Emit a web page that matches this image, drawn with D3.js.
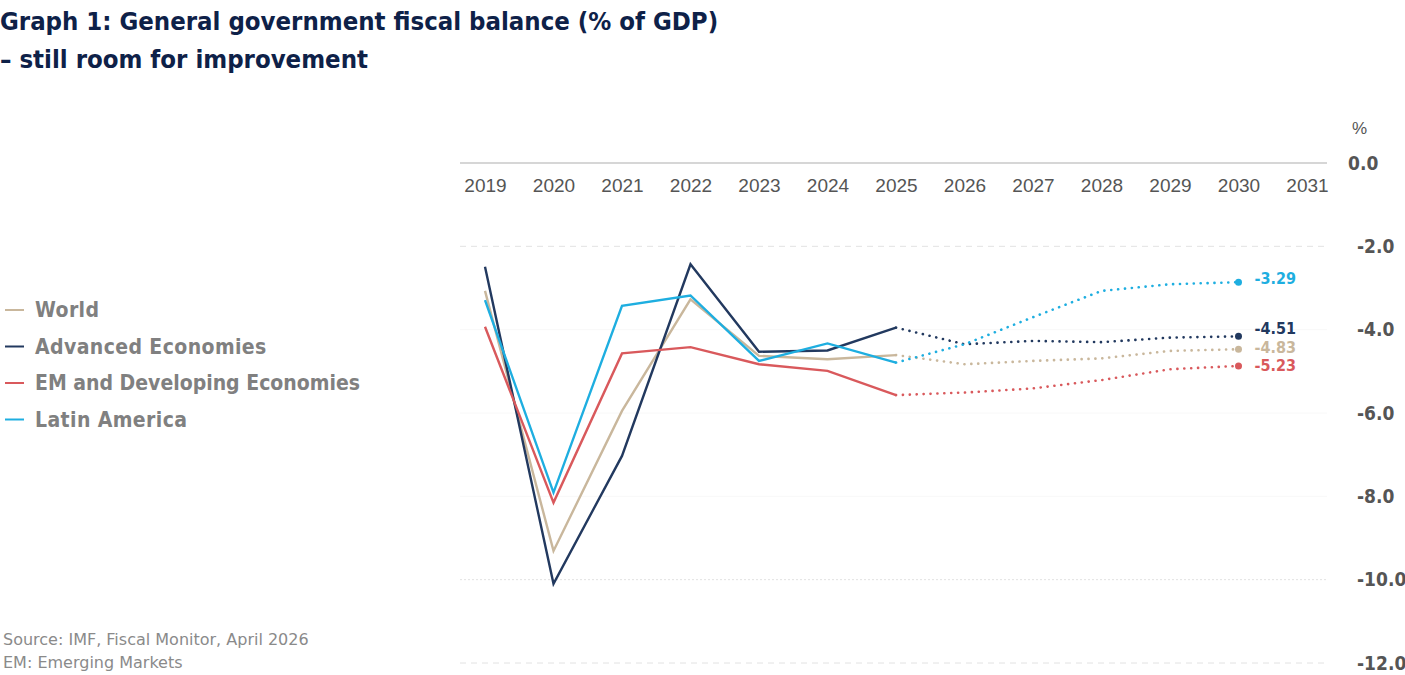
<!DOCTYPE html>
<html>
<head>
<meta charset="utf-8">
<script src="https://cdn.jsdelivr.net/npm/d3@7"></script>
<style>
  body { margin: 0; background: #fff; }
</style>
</head>
<body>
<div id="main_graphs"></div>
<script>
var years = [2019, 2020, 2021, 2022, 2023, 2024, 2025, 2026, 2027, 2028, 2029, 2030]
var axisYears = [2019, 2020, 2021, 2022, 2023, 2024, 2025, 2026, 2027, 2028, 2029, 2030, 2031]
var yTicks = [0, -2, -4, -6, -8, -10, -12]

var world = [-3.07, -9.31, -5.95, -3.27, -4.63, -4.71, -4.61, -4.83, -4.75, -4.69, -4.51, -4.47]
var advanced = [-2.49, -10.1, -7.03, -2.43, -4.53, -4.50, -3.95, -4.35, -4.27, -4.30, -4.19, -4.16]
var emde = [-3.93, -8.15, -4.57, -4.42, -4.83, -4.99, -5.57, -5.51, -5.41, -5.21, -4.95, -4.87]
var latam = [-3.29, -7.91, -3.43, -3.18, -4.75, -4.33, -4.79, -4.35, -3.70, -3.07, -2.91, -2.86]

var seriesNames = ["World", "Advanced Economies", "EM and Developing Economies", "Latin America"]
var seriesColors = ["#c9b79c", "#22395f", "#d9595c", "#1eaee0"]
var endLabels = ["-4.83", "-4.51", "-5.23", "-3.29"]
var lastActual = 2025

// small vertical nudges so the end labels do not collide (px)
var labelNudge = [-2, -8, -1, -4]

var series = [world, advanced, emde, latam].map(function(vals, i) {
    return {
        name: seriesNames[i],
        color: seriesColors[i],
        label: endLabels[i],
        nudge: labelNudge[i],
        values: vals.map(function(v, j) { return {year: years[j], value: v} })
    }
})

var width = 1405
var height = 675

var svg = d3.select("#main_graphs")
    .append("svg")
    .attr("width", width)
    .attr("height", height)

var x = d3.scaleLinear()
    .domain([2019, 2031])
    .range([485, 1307])

var y = d3.scaleLinear()
    .domain([0, -12])
    .range([163, 663])

// gridlines
var gridStyle = {
    "0": {stroke: "#d6d6d6", dash: null, w: 2},
    "-2": {stroke: "#e2e2e2", dash: "6,5", w: 1},
    "-4": {stroke: "#f8f8f8", dash: null, w: 1},
    "-6": {stroke: "#f8f8f8", dash: null, w: 1},
    "-8": {stroke: "#f8f8f8", dash: null, w: 1},
    "-10": {stroke: "#e2e2e2", dash: "2,2", w: 1},
    "-12": {stroke: "#e2e2e2", dash: "6,5", w: 1}
}

svg.append("g")
    .selectAll("line")
    .data(yTicks)
    .enter()
    .append("line")
    .attr("x1", 460)
    .attr("x2", 1327)
    .attr("y1", function(d) { return y(d) })
    .attr("y2", function(d) { return y(d) })
    .attr("stroke", function(d) { return gridStyle[d].stroke })
    .attr("stroke-width", function(d) { return gridStyle[d].w })
    .attr("stroke-dasharray", function(d) { return gridStyle[d].dash })

// x axis (labels under the zero line)
var xAxis = svg.append("g")
    .attr("transform", "translate(0," + y(0) + ")")
    .call(d3.axisBottom(x).tickValues(axisYears).tickFormat(d3.format("d")).tickSize(0).tickPadding(16))
xAxis.select(".domain").remove()
xAxis.selectAll("text")
    .style("font-family", "'Liberation Sans', Arial, sans-serif")
    .style("font-size", "19px")
    .style("fill", "#555")

// y axis on the right, plain hyphen minus like the original
var yAxis = svg.append("g")
    .attr("transform", "translate(1357,0)")
    .call(d3.axisRight(y).tickValues(yTicks)
        .tickFormat(function(d) { return d3.format(".1f")(d).replace("\u2212", "-") })
        .tickSize(0).tickPadding(0))
yAxis.select(".domain").remove()
yAxis.selectAll("text")
    .attr("x", function(d) { return d === 0 ? -9 : 0 })
    .style("font-family", "'DejaVu Sans Condensed', 'DejaVu Sans', sans-serif")
    .style("font-weight", "bold")
    .style("font-size", "19px")
    .style("fill", "#555")

svg.append("text")
    .attr("x", 1352)
    .attr("y", 134)
    .style("font-family", "'Liberation Sans', Arial, sans-serif")
    .style("font-size", "17px")
    .style("fill", "#555")
    .text("%")

var line = d3.line()
    .x(function(d) { return x(d.year) })
    .y(function(d) { return y(d.value) })

// solid actuals
svg.append("g")
    .selectAll("path")
    .data(series)
    .enter()
    .append("path")
    .attr("fill", "none")
    .attr("stroke", function(d) { return d.color })
    .attr("stroke-width", 2.4)
    .attr("d", function(d) { return line(d.values.filter(function(p) { return p.year <= lastActual })) })

// dotted projections
svg.append("g")
    .selectAll("path")
    .data(series)
    .enter()
    .append("path")
    .attr("fill", "none")
    .attr("stroke", function(d) { return d.color })
    .attr("stroke-width", 2.6)
    .attr("stroke-linecap", "round")
    .attr("stroke-dasharray", "0.1,6.8")
    .attr("d", function(d) { return line(d.values.filter(function(p) { return p.year >= lastActual })) })

// end dots
var last = function(d) { return d.values[d.values.length - 1] }
svg.append("g")
    .selectAll("circle")
    .data(series)
    .enter()
    .append("circle")
    .attr("cx", function(d) { return x(last(d).year) })
    .attr("cy", function(d) { return y(last(d).value) })
    .attr("r", 3.5)
    .attr("fill", function(d) { return d.color })

// end labels
svg.append("g")
    .selectAll("text")
    .data(series)
    .enter()
    .append("text")
    .attr("x", x(2030) + 16)
    .attr("y", function(d) { return y(last(d).value) + d.nudge })
    .attr("dy", "0.35em")
    .style("font-family", "'DejaVu Sans Condensed', 'DejaVu Sans', sans-serif")
    .style("font-weight", "bold")
    .style("font-size", "16px")
    .style("fill", function(d) { return d.color })
    .text(function(d) { return d.label })

// title
var title = svg.append("text")
    .style("font-family", "'DejaVu Sans Condensed', 'DejaVu Sans', sans-serif")
    .style("font-weight", "bold")
    .style("font-size", "25.5px")
    .style("fill", "#0e2148")
title.append("tspan").attr("x", 0).attr("y", 30).text("Graph 1: General government fiscal balance (% of GDP)")
title.append("tspan").attr("x", 0).attr("y", 68).text("\u2013 still room for improvement")

// legend
var legend = svg.append("g")
    .selectAll("g")
    .data(series)
    .enter()
    .append("g")
    .attr("transform", function(d, i) { return "translate(0," + (310 + i * 36.5) + ")" })

legend.append("line")
    .attr("x1", 5)
    .attr("x2", 24)
    .attr("stroke", function(d) { return d.color })
    .attr("stroke-width", 2)

legend.append("text")
    .attr("x", 35)
    .attr("dy", "0.35em")
    .style("font-family", "'DejaVu Sans Condensed', 'DejaVu Sans', sans-serif")
    .style("font-weight", "bold")
    .style("font-size", "21px")
    .style("letter-spacing", function(d, i) { return i === 2 ? "0px" : "0.4px" })
    .style("fill", "#808080")
    .text(function(d) { return d.name })

// source notes
var notes = svg.append("text")
    .style("font-family", "'DejaVu Sans', sans-serif")
    .style("font-size", "16px")
    .style("fill", "#8a8a8a")
notes.append("tspan").attr("x", 3).attr("y", 645).text("Source: IMF, Fiscal Monitor, April 2026")
notes.append("tspan").attr("x", 3).attr("y", 668).text("EM: Emerging Markets")
</script>
</body>
</html>
